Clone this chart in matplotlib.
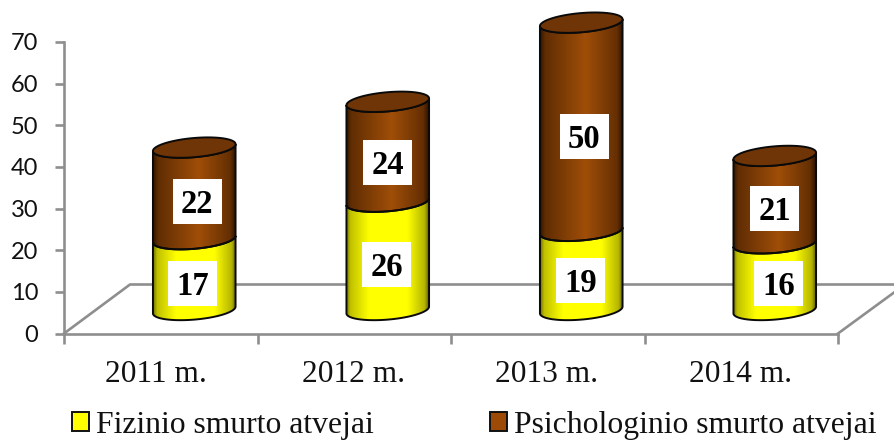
import numpy as np
import matplotlib
matplotlib.use("Agg")
import matplotlib.pyplot as plt
from matplotlib.colors import LinearSegmentedColormap
from matplotlib.patches import Patch, Polygon, Rectangle

categories = ["2011 m.", "2012 m.", "2013 m.", "2014 m."]
fizinio = [17, 26, 19, 16]
psichologinio = [22, 24, 50, 21]
series_names = ["Fizinio smurto atvejai", "Psichologinio smurto atvejai"]
y_ticks = [0, 10, 20, 30, 40, 50, 60, 70]

W, H = 894, 441
GRAY = "#8e8e8e"
SERIF = "Liberation Serif"
YELLOW = LinearSegmentedColormap.from_list("y", [(0, "#6f6f00"), (.05, "#c0c000"), (.28, "#ffff00"),
                                                 (.74, "#ffff00"), (.95, "#b5b500"), (1, "#5f5f00")])
BROWN = LinearSegmentedColormap.from_list("b", [(0, "#2f1500"), (.06, "#602d03"), (.55, "#a04e08"),
                                                (.93, "#652f03"), (1, "#2b1300")])

fig = plt.figure(figsize=(W / 100, H / 100), dpi=100)
left, right, y0, y70 = 64, 838, 333.5, 42
ax = fig.add_axes([left / W, 1 - y0 / H, (right - left) / W, (y0 - y70) / H])
ax.set_xlim(0, len(categories))
ax.set_ylim(0, 70)
sx = (right - left) / len(categories)
sy = (y0 - y70) / 70


def dx(p):
    return np.asarray(p) / sx


def dy(p):
    return np.asarray(p) / sy


# floor
ax.plot([0, dx(66), dx(830)], [0, dy(49), dy(49)], color=GRAY, lw=1.9, clip_on=False, zorder=1)
ax.plot([4, 4 + dx(56)], [0, dy(41)], color=GRAY, lw=1.9, clip_on=False, zorder=1)

# cylinders
A, B, S = 41.3, 9.6, 3.4
BASE_DX, BASE_DY = 33.5, 23.5
t_front = np.linspace(np.pi, 2 * np.pi, 80)
t_all = np.linspace(0, 2 * np.pi, 160)


def arc(cx, v, t):
    return cx + dx(A * np.cos(t)), dy(BASE_DY) + v + dy(B * np.sin(t) + S * np.cos(t))


def segment(cx, v0, v1, cmap):
    x0, y_0 = arc(cx, v0, t_front)
    x1, y_1 = arc(cx, v1, t_front)
    outline = np.column_stack([np.r_[x0, x1[::-1]], np.r_[y_0, y_1[::-1]]])
    grad = np.linspace(0, 1, 256)[None, :]
    im = ax.imshow(grad, cmap=cmap, aspect="auto", zorder=3,
                   extent=[cx - dx(A), cx + dx(A), v0 + dy(BASE_DY) - dy(16), v1 + dy(BASE_DY) + dy(16)])
    clip = Polygon(outline, closed=True, transform=ax.transData, fc="none", ec="none", clip_on=False)
    ax.add_patch(clip)
    im.set_clip_box(fig.bbox)
    im.set_clip_path(clip)
    ax.add_patch(Polygon(outline, closed=True, fc="none", ec="#0a0a0a", lw=1.4, zorder=4, clip_on=False))


label_shift = [[-2, 3], [-1, 0], [-1, 3], [4, 0]]
label_drop = [[8.5, 8.5], [9, 11], [10, 10], [7, 9]]


def label(cx, v, txt, shift, drop):
    x, y = cx + dx(shift), v + dy(BASE_DY) - dy(drop)
    ax.add_patch(Rectangle((x - dx(24.5), y - dy(22.5)), dx(49), dy(45), fc="white", ec="none", zorder=6))
    ax.text(x, y - dy(3), str(txt), ha="center", va="center", family=SERIF, weight="bold",
            fontsize=23.5, color="black", zorder=7)


for i, (a, b) in enumerate(zip(fizinio, psichologinio)):
    cx = i + .5 + dx(BASE_DX)
    segment(cx, 0, a, YELLOW)
    segment(cx, a, a + b, BROWN)
    xs, ys = arc(cx, a + b, t_all)
    ax.add_patch(Polygon(np.column_stack([xs, ys]), closed=True, fc="#703506", ec="#0a0a0a", lw=1.4,
                         zorder=5, clip_on=False))
    label(cx, a / 2, a, label_shift[i][0], label_drop[i][0])
    label(cx, a + b / 2, b, label_shift[i][1], label_drop[i][1])

ax.set_xlim(0, len(categories))
ax.set_ylim(0, 70)

# axes
for s in ("top", "right"):
    ax.spines[s].set_visible(False)
for s in ("left", "bottom"):
    ax.spines[s].set_color(GRAY)
    ax.spines[s].set_linewidth(1.9)
ax.set_yticks(y_ticks)
ax.set_xticks(range(len(categories) + 1))
ax.set_xticklabels([])
ax.set_xticks(np.arange(len(categories)) + .5 + dx(np.array([-5, -1, -1, -1])), minor=True)
ax.set_xticklabels(categories, minor=True, family=SERIF, fontsize=22.6)
ax.tick_params(axis="x", which="minor", length=0, pad=19, colors="#111111")
ax.tick_params(axis="x", which="major", length=7, width=1.9, color=GRAY)
ax.tick_params(axis="y", length=6.5, width=1.9, color=GRAY, pad=12, labelsize=17, labelcolor="#111111")
for t in ax.get_yticklabels():
    t.set_family("Lato")
    t.set_verticalalignment("center_baseline")

handles = [Patch(fc="#ffff00", ec="#111111", lw=1.4), Patch(fc="#9c4a05", ec="#111111", lw=1.4)]
fig.legend(handles, series_names, loc="center left", bbox_to_anchor=(72 / W, 1 - 425.5 / H), ncol=2,
           frameon=False, prop={"family": SERIF, "size": 22.8}, handlelength=.54, handleheight=.54,
           handletextpad=.22, columnspacing=3.66, borderpad=0, borderaxespad=0, labelcolor="#111111")

fig.savefig("out.png", dpi=100)
